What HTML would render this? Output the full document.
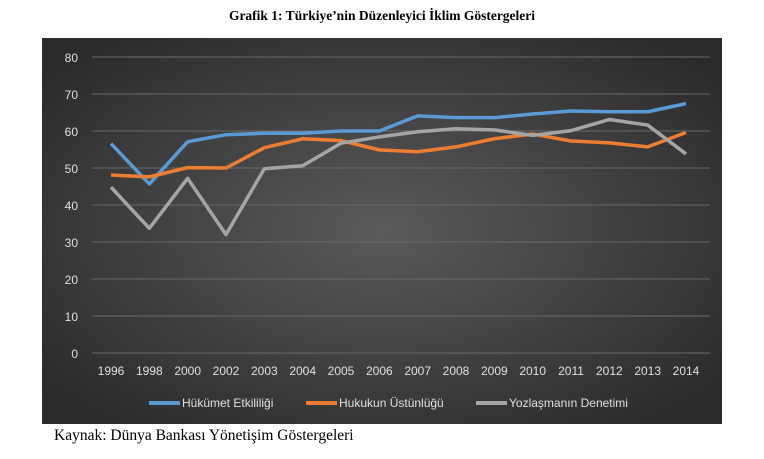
<!DOCTYPE html>
<html><head><meta charset="utf-8"><style>
body{margin:0;width:764px;height:459px;background:#fff;overflow:hidden;position:relative;font-family:"Liberation Sans",sans-serif}
#title{position:absolute;left:0;width:764px;top:8px;text-align:center;font:bold 13.5px "Liberation Serif",serif;color:#000}
#cap{position:absolute;left:54px;top:427px;font:15.5px "Liberation Serif",serif;color:#000}
svg{position:absolute;left:0;top:0}
</style></head><body>
<div id="title">Grafik 1: Türkiye’nin Düzenleyici İklim Göstergeleri</div>
<svg id="c" width="764" height="459">
<defs><radialGradient id="bg" cx="50%" cy="50%" r="65%"><stop offset="0" stop-color="#5a5a5a"/><stop offset="1" stop-color="#2a2a2a"/></radialGradient></defs>
<rect x="42" y="38" width="680" height="386" fill="url(#bg)"/>
</svg>
<div id="cap">Kaynak: Dünya Bankası Yönetişim Göstergeleri</div>
<script>
const categories=["1996","1998","2000","2002","2003","2004","2005","2006","2007","2008","2009","2010","2011","2012","2013","2014"];
const hukumet=[56.6,45.7,57.1,59,59.4,59.4,60,60,64.1,63.6,63.6,64.6,65.4,65.2,65.2,67.4];
const hukuk=[48.1,47.6,50.1,50,55.5,57.9,57.4,54.9,54.4,55.7,57.9,59.2,57.3,56.8,55.7,59.6];
const yozlasma=[44.8,33.7,47.2,32,49.8,50.6,56.7,58.4,59.8,60.6,60.3,58.8,60.1,63.1,61.6,53.8];
const yTicks=[0,10,20,30,40,50,60,70,80];
const seriesNames=["Hükümet Etkililiği","Hukukun Üstünlüğü","Yozlaşmanın Denetimi"];
const svg=document.getElementById('c');const NS="http://www.w3.org/2000/svg";
const x=i=>111+i*(686-111)/(categories.length-1);
const y=v=>353-v*(353-57)/80;
function mk(t,a){const e=document.createElementNS(NS,t);for(const k in a)e.setAttribute(k,a[k]);svg.appendChild(e);return e;}
yTicks.forEach(v=>{
 const g=mk('line',{x1:92,x2:710,y1:y(v),y2:y(v),stroke:'#6a6a6a','stroke-width':1});
 
 
 const t=mk('text',{x:78,y:y(v)+5,'text-anchor':'end',fill:'#e0e0e0','font-size':12});t.textContent=v;
 
 
});
categories.forEach((c,i)=>{
 const t=mk('text',{x:x(i),y:375,'text-anchor':'middle',fill:'#e0e0e0','font-size':12});t.textContent=c;
 
 
});
const data=[hukumet,hukuk,yozlasma];const cols=['#5b9bd5','#ed7d31','#a5a5a5'];
data.forEach((d,s)=>{
 const p=mk('polyline',{points:d.map((v,i)=>x(i)+','+y(v)).join(' '),fill:'none',stroke:cols[s],'stroke-width':3.5,'stroke-linejoin':'round'});
 
 
});
const lx=[149,306,476];
seriesNames.forEach((n,s)=>{
 const l=mk('line',{x1:lx[s],x2:lx[s]+31,y1:403,y2:403,stroke:cols[s],'stroke-width':4});
 
 
 const t=mk('text',{x:lx[s]+33,y:407,fill:'#e0e0e0','font-size':12});t.textContent=n;
 
 
});
</script>
</body></html>
